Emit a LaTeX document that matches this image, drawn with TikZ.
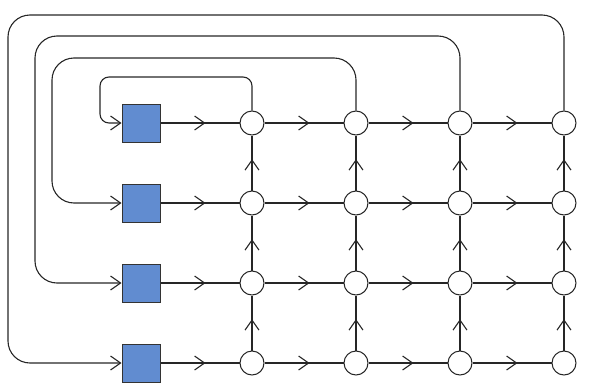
\documentclass[tikz,border=0pt]{standalone}
\usetikzlibrary{arrows.meta,decorations.markings}
\definecolor{boxblue}{RGB}{97,140,208}
\begin{document}
\begin{tikzpicture}[x=1pt,y=-1pt,
  sq/.style={draw=black!80,fill=boxblue,minimum size=38pt,inner sep=0pt,line width=1pt},
  nd/.style={circle,draw=black!85,fill=white,minimum size=24pt,inner sep=0pt,line width=1pt},
  edge/.style={draw=black!85,line width=1.4pt,postaction={decorate},
    decoration={markings,mark=at position 0.57 with {\arrow{Straight Barb[length=10pt,width=14pt,line width=1.1pt]}}}},
  fb/.style={draw=black!85,line width=1.1pt,-{Straight Barb[length=10pt,width=14pt,line width=1.1pt]}}]
\useasboundingbox (0,0) rectangle (602,391);
\foreach \r/\y in {1/123,2/203,3/283,4/363}{
  \node[sq] (s\r) at (141,\y) {};
  \foreach \c/\x in {1/252,2/356,3/460,4/564}{
    \node[nd] (c\r\c) at (\x,\y) {};
  }
}
% horizontal edges
\foreach \r in {1,2,3,4}{
  \path[edge] (s\r) -- (c\r1);
  \path[edge] (c\r1) -- (c\r2);
  \path[edge] (c\r2) -- (c\r3);
  \path[edge] (c\r3) -- (c\r4);
}
% vertical edges (upward)
\foreach \c in {1,2,3,4}{
  \path[edge] (c4\c) -- (c3\c);
  \path[edge] (c3\c) -- (c2\c);
  \path[edge] (c2\c) -- (c1\c);
}
% feedback loops
\coordinate (k1) at (100,77);
\coordinate (k2) at (52,58);
\coordinate (k3) at (35,36);
\coordinate (k4) at (8,15);
\draw[fb,rounded corners=9pt] (c11.north) |- (k1) |- (s1.west);
\draw[fb,rounded corners=22pt] (c12.north) |- (k2) |- (s2.west);
\draw[fb,rounded corners=22pt] (c13.north) |- (k3) |- (s3.west);
\draw[fb,rounded corners=22pt] (c14.north) |- (k4) |- (s4.west);
\end{tikzpicture}
\end{document}
